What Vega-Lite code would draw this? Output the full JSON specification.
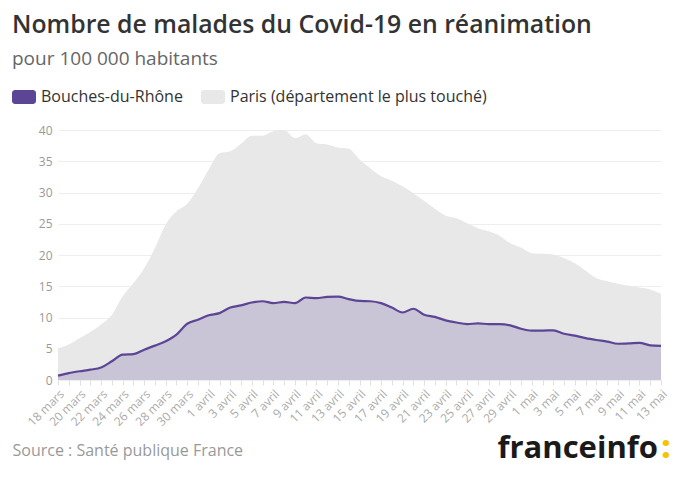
{
  "$schema": "https://vega.github.io/schema/vega-lite/v6.json",
  "width": 603,
  "height": 250,
  "autosize": {"type": "none"},
  "padding": {"left": 58, "top": 130, "right": 19, "bottom": 100},
  "background": "white",
  "config": {
    "view": {"stroke": null},
    "font": "Open Sans"
  },
  "title": {
    "text": "Nombre de malades du Covid-19 en réanimation",
    "subtitle": "pour 100 000 habitants",
    "anchor": "start",
    "frame": "group",
    "dx": -46,
    "offset": 16,
    "font": "Open Sans",
    "fontSize": 24.8,
    "fontWeight": 600,
    "color": "#333333",
    "subtitleFont": "Open Sans",
    "subtitleFontSize": 19,
    "subtitleColor": "#666666",
    "subtitlePadding": 12
  },
  "data": {
    "values": [
      {"date": "2020-03-18", "serie": "Paris (département le plus touché)", "valeur": 5.1},
      {"date": "2020-03-19", "serie": "Paris (département le plus touché)", "valeur": 5.7},
      {"date": "2020-03-20", "serie": "Paris (département le plus touché)", "valeur": 6.7},
      {"date": "2020-03-21", "serie": "Paris (département le plus touché)", "valeur": 7.7},
      {"date": "2020-03-22", "serie": "Paris (département le plus touché)", "valeur": 8.9},
      {"date": "2020-03-23", "serie": "Paris (département le plus touché)", "valeur": 10.4},
      {"date": "2020-03-24", "serie": "Paris (département le plus touché)", "valeur": 13.4},
      {"date": "2020-03-25", "serie": "Paris (département le plus touché)", "valeur": 15.5},
      {"date": "2020-03-26", "serie": "Paris (département le plus touché)", "valeur": 17.9},
      {"date": "2020-03-27", "serie": "Paris (département le plus touché)", "valeur": 21.1},
      {"date": "2020-03-28", "serie": "Paris (département le plus touché)", "valeur": 24.9},
      {"date": "2020-03-29", "serie": "Paris (département le plus touché)", "valeur": 27.0},
      {"date": "2020-03-30", "serie": "Paris (département le plus touché)", "valeur": 28.2},
      {"date": "2020-03-31", "serie": "Paris (département le plus touché)", "valeur": 30.7},
      {"date": "2020-04-01", "serie": "Paris (département le plus touché)", "valeur": 33.7},
      {"date": "2020-04-02", "serie": "Paris (département le plus touché)", "valeur": 36.3},
      {"date": "2020-04-03", "serie": "Paris (département le plus touché)", "valeur": 36.6},
      {"date": "2020-04-04", "serie": "Paris (département le plus touché)", "valeur": 37.8},
      {"date": "2020-04-05", "serie": "Paris (département le plus touché)", "valeur": 39.1},
      {"date": "2020-04-06", "serie": "Paris (département le plus touché)", "valeur": 39.1},
      {"date": "2020-04-07", "serie": "Paris (département le plus touché)", "valeur": 39.8},
      {"date": "2020-04-08", "serie": "Paris (département le plus touché)", "valeur": 40.0},
      {"date": "2020-04-09", "serie": "Paris (département le plus touché)", "valeur": 38.7},
      {"date": "2020-04-10", "serie": "Paris (département le plus touché)", "valeur": 39.3},
      {"date": "2020-04-11", "serie": "Paris (département le plus touché)", "valeur": 37.9},
      {"date": "2020-04-12", "serie": "Paris (département le plus touché)", "valeur": 37.7},
      {"date": "2020-04-13", "serie": "Paris (département le plus touché)", "valeur": 37.2},
      {"date": "2020-04-14", "serie": "Paris (département le plus touché)", "valeur": 37.0},
      {"date": "2020-04-15", "serie": "Paris (département le plus touché)", "valeur": 35.3},
      {"date": "2020-04-16", "serie": "Paris (département le plus touché)", "valeur": 33.9},
      {"date": "2020-04-17", "serie": "Paris (département le plus touché)", "valeur": 32.6},
      {"date": "2020-04-18", "serie": "Paris (département le plus touché)", "valeur": 31.9},
      {"date": "2020-04-19", "serie": "Paris (département le plus touché)", "valeur": 31.0},
      {"date": "2020-04-20", "serie": "Paris (département le plus touché)", "valeur": 29.9},
      {"date": "2020-04-21", "serie": "Paris (département le plus touché)", "valeur": 28.7},
      {"date": "2020-04-22", "serie": "Paris (département le plus touché)", "valeur": 27.4},
      {"date": "2020-04-23", "serie": "Paris (département le plus touché)", "valeur": 26.3},
      {"date": "2020-04-24", "serie": "Paris (département le plus touché)", "valeur": 25.9},
      {"date": "2020-04-25", "serie": "Paris (département le plus touché)", "valeur": 25.1},
      {"date": "2020-04-26", "serie": "Paris (département le plus touché)", "valeur": 24.3},
      {"date": "2020-04-27", "serie": "Paris (département le plus touché)", "valeur": 23.8},
      {"date": "2020-04-28", "serie": "Paris (département le plus touché)", "valeur": 23.1},
      {"date": "2020-04-29", "serie": "Paris (département le plus touché)", "valeur": 21.9},
      {"date": "2020-04-30", "serie": "Paris (département le plus touché)", "valeur": 21.2},
      {"date": "2020-05-01", "serie": "Paris (département le plus touché)", "valeur": 20.3},
      {"date": "2020-05-02", "serie": "Paris (département le plus touché)", "valeur": 20.2},
      {"date": "2020-05-03", "serie": "Paris (département le plus touché)", "valeur": 20.1},
      {"date": "2020-05-04", "serie": "Paris (département le plus touché)", "valeur": 19.5},
      {"date": "2020-05-05", "serie": "Paris (département le plus touché)", "valeur": 18.7},
      {"date": "2020-05-06", "serie": "Paris (département le plus touché)", "valeur": 17.5},
      {"date": "2020-05-07", "serie": "Paris (département le plus touché)", "valeur": 16.3},
      {"date": "2020-05-08", "serie": "Paris (département le plus touché)", "valeur": 15.8},
      {"date": "2020-05-09", "serie": "Paris (département le plus touché)", "valeur": 15.4},
      {"date": "2020-05-10", "serie": "Paris (département le plus touché)", "valeur": 15.1},
      {"date": "2020-05-11", "serie": "Paris (département le plus touché)", "valeur": 14.8},
      {"date": "2020-05-12", "serie": "Paris (département le plus touché)", "valeur": 14.5},
      {"date": "2020-05-13", "serie": "Paris (département le plus touché)", "valeur": 13.8},
      {"date": "2020-03-18", "serie": "Bouches-du-Rhône", "valeur": 0.7},
      {"date": "2020-03-19", "serie": "Bouches-du-Rhône", "valeur": 1.1},
      {"date": "2020-03-20", "serie": "Bouches-du-Rhône", "valeur": 1.4},
      {"date": "2020-03-21", "serie": "Bouches-du-Rhône", "valeur": 1.65},
      {"date": "2020-03-22", "serie": "Bouches-du-Rhône", "valeur": 2.0},
      {"date": "2020-03-23", "serie": "Bouches-du-Rhône", "valeur": 3.0},
      {"date": "2020-03-24", "serie": "Bouches-du-Rhône", "valeur": 4.05},
      {"date": "2020-03-25", "serie": "Bouches-du-Rhône", "valeur": 4.15},
      {"date": "2020-03-26", "serie": "Bouches-du-Rhône", "valeur": 4.85},
      {"date": "2020-03-27", "serie": "Bouches-du-Rhône", "valeur": 5.5},
      {"date": "2020-03-28", "serie": "Bouches-du-Rhône", "valeur": 6.2},
      {"date": "2020-03-29", "serie": "Bouches-du-Rhône", "valeur": 7.25},
      {"date": "2020-03-30", "serie": "Bouches-du-Rhône", "valeur": 9.0},
      {"date": "2020-03-31", "serie": "Bouches-du-Rhône", "valeur": 9.65},
      {"date": "2020-04-01", "serie": "Bouches-du-Rhône", "valeur": 10.35},
      {"date": "2020-04-02", "serie": "Bouches-du-Rhône", "valeur": 10.7},
      {"date": "2020-04-03", "serie": "Bouches-du-Rhône", "valeur": 11.6},
      {"date": "2020-04-04", "serie": "Bouches-du-Rhône", "valeur": 11.95},
      {"date": "2020-04-05", "serie": "Bouches-du-Rhône", "valeur": 12.4},
      {"date": "2020-04-06", "serie": "Bouches-du-Rhône", "valeur": 12.6},
      {"date": "2020-04-07", "serie": "Bouches-du-Rhône", "valeur": 12.3},
      {"date": "2020-04-08", "serie": "Bouches-du-Rhône", "valeur": 12.5},
      {"date": "2020-04-09", "serie": "Bouches-du-Rhône", "valeur": 12.3},
      {"date": "2020-04-10", "serie": "Bouches-du-Rhône", "valeur": 13.2},
      {"date": "2020-04-11", "serie": "Bouches-du-Rhône", "valeur": 13.1},
      {"date": "2020-04-12", "serie": "Bouches-du-Rhône", "valeur": 13.3},
      {"date": "2020-04-13", "serie": "Bouches-du-Rhône", "valeur": 13.35},
      {"date": "2020-04-14", "serie": "Bouches-du-Rhône", "valeur": 12.95},
      {"date": "2020-04-15", "serie": "Bouches-du-Rhône", "valeur": 12.65},
      {"date": "2020-04-16", "serie": "Bouches-du-Rhône", "valeur": 12.6},
      {"date": "2020-04-17", "serie": "Bouches-du-Rhône", "valeur": 12.3},
      {"date": "2020-04-18", "serie": "Bouches-du-Rhône", "valeur": 11.6},
      {"date": "2020-04-19", "serie": "Bouches-du-Rhône", "valeur": 10.8},
      {"date": "2020-04-20", "serie": "Bouches-du-Rhône", "valeur": 11.4},
      {"date": "2020-04-21", "serie": "Bouches-du-Rhône", "valeur": 10.45},
      {"date": "2020-04-22", "serie": "Bouches-du-Rhône", "valeur": 10.1},
      {"date": "2020-04-23", "serie": "Bouches-du-Rhône", "valeur": 9.55},
      {"date": "2020-04-24", "serie": "Bouches-du-Rhône", "valeur": 9.2},
      {"date": "2020-04-25", "serie": "Bouches-du-Rhône", "valeur": 8.95},
      {"date": "2020-04-26", "serie": "Bouches-du-Rhône", "valeur": 9.05},
      {"date": "2020-04-27", "serie": "Bouches-du-Rhône", "valeur": 8.95},
      {"date": "2020-04-28", "serie": "Bouches-du-Rhône", "valeur": 8.95},
      {"date": "2020-04-29", "serie": "Bouches-du-Rhône", "valeur": 8.75},
      {"date": "2020-04-30", "serie": "Bouches-du-Rhône", "valeur": 8.2},
      {"date": "2020-05-01", "serie": "Bouches-du-Rhône", "valeur": 7.9},
      {"date": "2020-05-02", "serie": "Bouches-du-Rhône", "valeur": 7.9},
      {"date": "2020-05-03", "serie": "Bouches-du-Rhône", "valeur": 7.95},
      {"date": "2020-05-04", "serie": "Bouches-du-Rhône", "valeur": 7.4},
      {"date": "2020-05-05", "serie": "Bouches-du-Rhône", "valeur": 7.1},
      {"date": "2020-05-06", "serie": "Bouches-du-Rhône", "valeur": 6.7},
      {"date": "2020-05-07", "serie": "Bouches-du-Rhône", "valeur": 6.4},
      {"date": "2020-05-08", "serie": "Bouches-du-Rhône", "valeur": 6.15},
      {"date": "2020-05-09", "serie": "Bouches-du-Rhône", "valeur": 5.8},
      {"date": "2020-05-10", "serie": "Bouches-du-Rhône", "valeur": 5.85},
      {"date": "2020-05-11", "serie": "Bouches-du-Rhône", "valeur": 5.95},
      {"date": "2020-05-12", "serie": "Bouches-du-Rhône", "valeur": 5.55},
      {"date": "2020-05-13", "serie": "Bouches-du-Rhône", "valeur": 5.45}
    ]
  },
  "encoding": {
    "x": {
      "field": "date",
      "type": "ordinal",
      "scale": {"type": "point", "padding": 0},
      "axis": {
        "labelAngle": -45,
        "labelExpr": "(substring(datum.value,5,7)=='03' ? (parseInt(substring(datum.value,8,10))%2==0) : (parseInt(substring(datum.value,8,10))%2==1)) ? (parseInt(substring(datum.value,8,10)) + ' ' + (substring(datum.value,5,7)=='03' ? 'mars' : substring(datum.value,5,7)=='04' ? 'avril' : 'mai')) : ''",
        "labelFont": "Open Sans",
        "labelFontSize": 12,
        "labelColor": "#aaaaaa",
        "labelPadding": 3,
        "labelOverlap": false,
        "labelBound": false,
        "domain": false,
        "ticks": true,
        "tickColor": "#e0e0e0",
        "tickSize": 5,
        "grid": false,
        "title": "Source : Santé publique France",
        "titleFont": "Open Sans",
        "titleFontSize": 16,
        "titleFontWeight": "normal",
        "titleColor": "#999999",
        "titleAngle": 0,
        "titleAlign": "left",
        "titleBaseline": "middle",
        "titleX": -46,
        "titleY": 70
      }
    },
    "color": {
      "field": "serie",
      "type": "nominal",
      "scale": {
        "domain": ["Bouches-du-Rhône", "Paris (département le plus touché)"],
        "range": ["#5c4595", "#e8e8e8"]
      },
      "legend": {
        "title": null,
        "orient": "none",
        "direction": "horizontal",
        "legendX": -46,
        "legendY": -45,
        "symbolType": "M-0.75,-0.58 H0.75 A0.25,0.25 0 0 1 1,-0.33 V0.33 A0.25,0.25 0 0 1 0.75,0.58 H-0.75 A0.25,0.25 0 0 1 -1,0.33 V-0.33 A0.25,0.25 0 0 1 -0.75,-0.58 Z",
        "symbolSize": 576,
        "symbolOpacity": 1,
        "symbolStrokeWidth": 0,
        "labelFont": "Open Sans",
        "labelFontSize": 16,
        "labelColor": "#333333",
        "labelOffset": 5,
        "columnPadding": 18,
        "labelLimit": 400
      }
    }
  },
  "layer": [
    {
      "transform": [{"filter": "datum.serie == 'Paris (département le plus touché)'"}],
      "mark": {"type": "area", "interpolate": "monotone", "color": "#ebebeb"},
      "encoding": {
        "y": {
          "field": "valeur",
          "type": "quantitative",
          "scale": {"domain": [0, 40], "nice": false},
          "axis": {
            "orient": "left",
            "values": [0, 5, 10, 15, 20, 25, 30, 35, 40],
            "domain": false,
            "ticks": false,
            "grid": true,
            "gridColor": "#eeeeee",
            "gridWidth": 1,
            "labelFont": "Open Sans",
            "labelFontSize": 12,
            "labelColor": "#999999",
            "labelPadding": 6,
            "title": "franceinfo",
            "titleFont": "Open Sans",
            "titleFontSize": 31,
            "titleFontWeight": 700,
            "titleColor": "#1a1a1a",
            "titleAngle": 0,
            "titleAlign": "left",
            "titleBaseline": "middle",
            "titleX": 439,
            "titleY": 318
          }
        }
      }
    },
    {
      "transform": [{"filter": "datum.serie == 'Bouches-du-Rhône'"}],
      "mark": {
        "type": "area",
        "interpolate": "monotone",
        "fillOpacity": 0.22,
        "line": {"strokeWidth": 2.2, "interpolate": "monotone"}
      },
      "encoding": {
        "y": {
          "field": "valeur",
          "type": "quantitative",
          "scale": {"domain": [0, 40], "nice": false},
          "axis": {
            "orient": "right",
            "labels": false,
            "ticks": false,
            "domain": false,
            "grid": false,
            "title": ":",
            "titleFont": "Open Sans",
            "titleFontSize": 31,
            "titleFontWeight": 800,
            "titleColor": "#f5c400",
            "titleAngle": 0,
            "titleAlign": "left",
            "titleBaseline": "middle",
            "titleX": 0,
            "titleY": 318
          }
        }
      }
    }
  ],
  "resolve": {"scale": {"y": "independent"}}
}
